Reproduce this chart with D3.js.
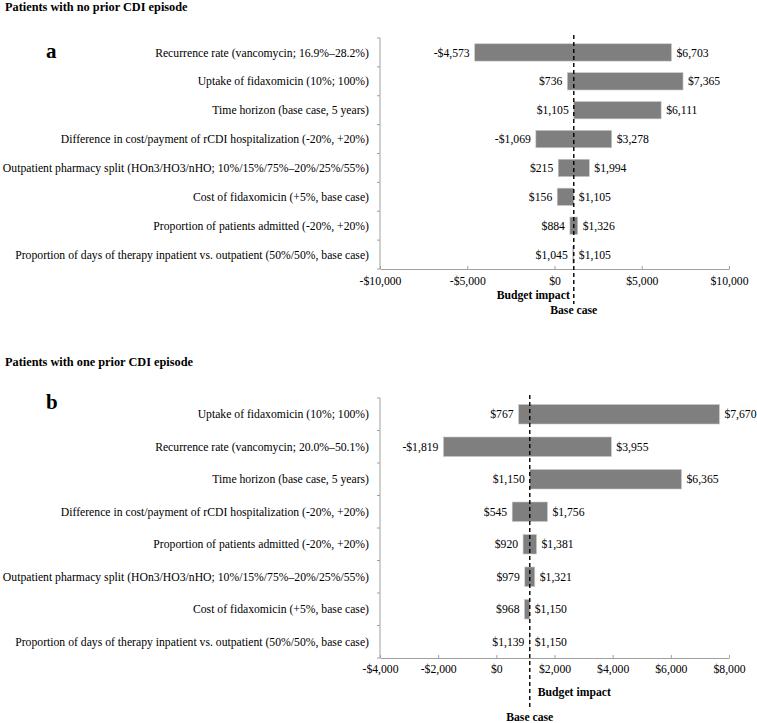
<!DOCTYPE html>
<html><head><meta charset="utf-8">
<script src="https://cdn.jsdelivr.net/npm/d3@7"></script>
<style>body{margin:0;background:#fff} text{font-family:"Liberation Serif","Times New Roman",Times,serif;}</style>
</head><body>
<svg id="c" width="757" height="723"></svg>
<script>
const catsA = ["Recurrence rate (vancomycin; 16.9%\u201328.2%)","Uptake of fidaxomicin (10%; 100%)","Time horizon (base case, 5 years)","Difference in cost/payment of rCDI hospitalization (-20%, +20%)","Outpatient pharmacy split (HOn3/HO3/nHO; 10%/15%/75%\u201320%/25%/55%)","Cost of fidaxomicin (+5%, base case)","Proportion of patients admitted (-20%, +20%)","Proportion of days of therapy inpatient vs. outpatient (50%/50%, base case)"];
const loA = [-4573, 736, 1105, -1069, 215, 156, 884, 1045];
const hiA = [6703, 7365, 6111, 3278, 1994, 1105, 1326, 1105];
const baseA = 1105;
const ticksA = [-10000, -5000, 0, 5000, 10000];

const catsB = ["Uptake of fidaxomicin (10%; 100%)","Recurrence rate (vancomycin; 20.0%\u201350.1%)","Time horizon (base case, 5 years)","Difference in cost/payment of rCDI hospitalization (-20%, +20%)","Proportion of patients admitted (-20%, +20%)","Outpatient pharmacy split (HOn3/HO3/nHO; 10%/15%/75%\u201320%/25%/55%)","Cost of fidaxomicin (+5%, base case)","Proportion of days of therapy inpatient vs. outpatient (50%/50%, base case)"];
const loB = [767, -1819, 1150, 545, 920, 979, 968, 1139];
const hiB = [7670, 3955, 6365, 1756, 1381, 1321, 1150, 1150];
const baseB = 1150;
const ticksB = [-4000, -2000, 0, 2000, 4000, 6000, 8000];

const svg = d3.select("#c");
const FS = 11.7;
const money = d => (d < 0 ? "-$" : "$") + d3.format(",")(Math.abs(d));

function panel(o) {
  const g = svg.append("g");
  const x = d3.scaleLinear().domain([o.ticks[0], o.ticks[o.ticks.length-1]]).range([380, 729]);
  const y = d3.scaleBand().domain(o.cats).range([o.top, o.bottom]).paddingInner(0.4).paddingOuter(0.2);
  const step = y.step();

  g.append("text").attr("x", 5).attr("y", o.titleY).text(o.title)
    .attr("font-weight", "bold").attr("font-size", 12.3);
  g.append("text").attr("x", 46).attr("y", o.letterY).text(o.letter)
    .attr("font-weight", "bold").attr("font-size", 21);

  const ax = g.append("g").attr("transform", `translate(0,${o.bottom})`)
    .call(d3.axisBottom(x).tickValues(o.ticks).tickFormat(money).tickSizeInner(-3).tickSizeOuter(0).tickPadding(o.tickPad));
  ax.attr("font-family", null);
  ax.select(".domain").attr("stroke", "#a0a0a0");
  ax.selectAll(".tick line").attr("stroke", "#a0a0a0");
  ax.selectAll("text").attr("font-size", FS).attr("fill", "#000");

  g.append("line").attr("x1", 380).attr("x2", 380).attr("y1", o.top).attr("y2", o.bottom).attr("stroke", "#a0a0a0");
  const bounds = o.cats.map(c => y(c) - step * 0.2).concat([o.bottom]);
  g.selectAll(".yt").data(bounds).enter().append("line")
    .attr("x1", 377).attr("x2", 380).attr("y1", d => d).attr("y2", d => d).attr("stroke", "#a0a0a0");

  g.selectAll(".cl").data(o.cats).enter().append("text")
    .attr("x", 369).attr("y", d => y(d) + y.bandwidth() / 2).attr("dy", "0.35em")
    .attr("text-anchor", "end").attr("font-size", FS).text(d => d);

  g.selectAll(".bar").data(o.cats).enter().append("rect")
    .attr("x", (d, i) => x(o.lo[i])).attr("width", (d, i) => Math.max(0, x(o.hi[i]) - x(o.lo[i])))
    .attr("y", d => y(d)).attr("height", y.bandwidth())
    .attr("fill", "#7f7f7f").attr("stroke", "#c8c8c8").attr("stroke-width", 0.6);

  g.selectAll(".lv").data(o.cats).enter().append("text")
    .attr("x", (d, i) => x(o.lo[i]) - 5).attr("y", d => y(d) + y.bandwidth() / 2).attr("dy", "0.35em")
    .attr("text-anchor", "end").attr("font-size", FS).text((d, i) => money(o.lo[i]));
  g.selectAll(".hv").data(o.cats).enter().append("text")
    .attr("x", (d, i) => x(o.hi[i]) + 5).attr("y", d => y(d) + y.bandwidth() / 2).attr("dy", "0.35em")
    .attr("text-anchor", "start").attr("font-size", FS).text((d, i) => money(o.hi[i]));

  const xb = x(o.base);
  g.append("line").attr("x1", xb).attr("x2", xb).attr("y1", o.top - 3).attr("y2", o.dashEnd)
    .attr("stroke", "#000").attr("stroke-width", 1.4).attr("stroke-dasharray", "4,3");

  g.append("text").attr("x", xb + o.biDx).attr("y", o.biY).attr("text-anchor", o.biAnchor)
    .attr("font-weight", "bold").attr("font-size", FS).text("Budget impact");
  g.append("text").attr("x", xb).attr("y", o.bcY).attr("text-anchor", "middle")
    .attr("font-weight", "bold").attr("font-size", FS).text("Base case");
}

panel({cats: catsA, lo: loA, hi: hiA, base: baseA, ticks: ticksA, top: 38, bottom: 269,
  title: "Patients with no prior CDI episode", titleY: 11, letter: "a", letterY: 58, tickPad: 8,
  dashEnd: 304, biDx: -4, biAnchor: "end", biY: 299, bcY: 314});
panel({cats: catsB, lo: loB, hi: hiB, base: baseB, ticks: ticksB, top: 398, bottom: 658,
  title: "Patients with one prior CDI episode", titleY: 366, letter: "b", letterY: 409, tickPad: 7,
  dashEnd: 707, biDx: 8, biAnchor: "start", biY: 696, bcY: 721});
</script>
</body></html>
